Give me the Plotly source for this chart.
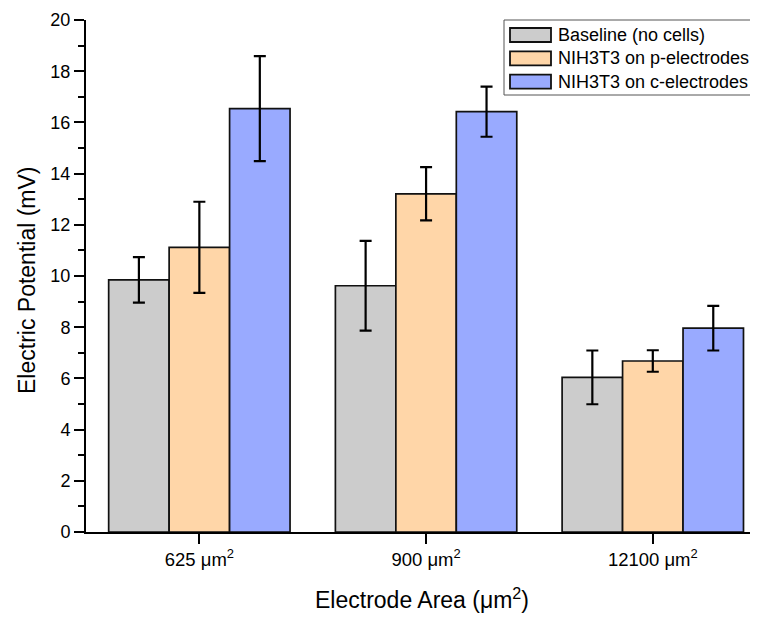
import plotly.graph_objects as go

categories = ["625 μm<sup>2</sup>", "900 μm<sup>2</sup>", "12100 μm<sup>2</sup>"]
series_names = ["Baseline (no cells)", "NIH3T3 on p-electrodes", "NIH3T3 on c-electrodes"]
baseline = [9.85, 9.62, 6.04]
baseline_err = [0.89, 1.75, 1.05]
p_electrodes = [11.12, 13.21, 6.68]
p_electrodes_err = [1.78, 1.04, 0.42]
c_electrodes = [16.54, 16.42, 7.96]
c_electrodes_err = [2.05, 0.98, 0.87]
y_tick_values = [0, 2, 4, 6, 8, 10, 12, 14, 16, 18, 20]
x_title = "Electrode Area (μm<sup>2</sup>)"
y_title = "Electric Potential (mV)"

values = [baseline, p_electrodes, c_electrodes]
errors = [baseline_err, p_electrodes_err, c_electrodes_err]
colors = ["#CCCCCC", "#FFD6A8", "#99AAFF"]

# The page body adds an 8px margin, so the figure is 8px smaller than the window
W, H = 750, 613
ML, MR, MT, MB = 78, 0, 12, 89
FONT = "Liberation Sans, Arial, sans-serif"

fig = go.Figure()
for name, v, e, c in zip(series_names, values, errors, colors):
    fig.add_trace(go.Bar(
        name=name, x=categories, y=v,
        marker=dict(color=c, line=dict(color="#111111", width=1.7)),
        error_y=dict(type="data", array=e, visible=True, color="black",
                     thickness=2.2, width=6),
        showlegend=False,
    ))

def px_x(p):
    return (p - ML) / (W - ML - MR)

def px_y(p):
    return (H - MB - p) / (H - MT - MB)

# legend box (manual, to match wide swatches)
shapes = [dict(type="rect", xref="paper", yref="paper",
               x0=px_x(496), x1=px_x(749), y0=px_y(87), y1=px_y(12),
               line=dict(color="#555555", width=1), fillcolor="white", layer="above")]
annotations = []
row_y = [27, 50.3, 73.6]
for name, c, ry in zip(series_names, colors, row_y):
    shapes.append(dict(type="rect", xref="paper", yref="paper",
                       x0=px_x(502), x1=px_x(543), y0=px_y(ry + 7), y1=px_y(ry - 7),
                       line=dict(color="#111111", width=1.8), fillcolor=c, layer="above"))
    annotations.append(dict(xref="paper", yref="paper", x=px_x(548), y=px_y(ry),
                            xanchor="left", yanchor="middle", text=name, showarrow=False,
                            font=dict(family=FONT, size=18, color="black")))

# y-axis title placed as rotated text
annotations.append(dict(xref="paper", yref="paper", x=px_x(19), y=px_y(272),
                        xanchor="center", yanchor="middle", textangle=-90,
                        text=y_title, showarrow=False,
                        font=dict(family=FONT, size=23, color="black")))

fig.update_layout(
    width=W, height=H,
    margin=dict(l=ML, r=MR, t=MT, b=MB),
    paper_bgcolor="white", plot_bgcolor="white",
    barmode="group", bargap=0.2, bargroupgap=0,
    font=dict(family=FONT, size=18, color="black"),
    shapes=shapes, annotations=annotations,
    xaxis=dict(
        type="category", range=[-0.5, 2.464],
        showline=True, linecolor="black", linewidth=2,
        ticks="outside", ticklen=10, tickwidth=2, tickcolor="black",
        showgrid=False, zeroline=False,
        tickfont=dict(family=FONT, size=18.5),
        title=dict(text=x_title, font=dict(family=FONT, size=23), standoff=23),
    ),
    yaxis=dict(
        range=[0, 20], tickvals=y_tick_values,
        showline=True, linecolor="black", linewidth=2,
        ticks="outside", ticklen=10, tickwidth=2, tickcolor="black",
        minor=dict(ticks="outside", ticklen=6, tickwidth=2, tickcolor="black", dtick=1),
        showgrid=False, zeroline=False,
        tickfont=dict(family=FONT, size=18),
    ),
)

fig.write_html("out.html")
